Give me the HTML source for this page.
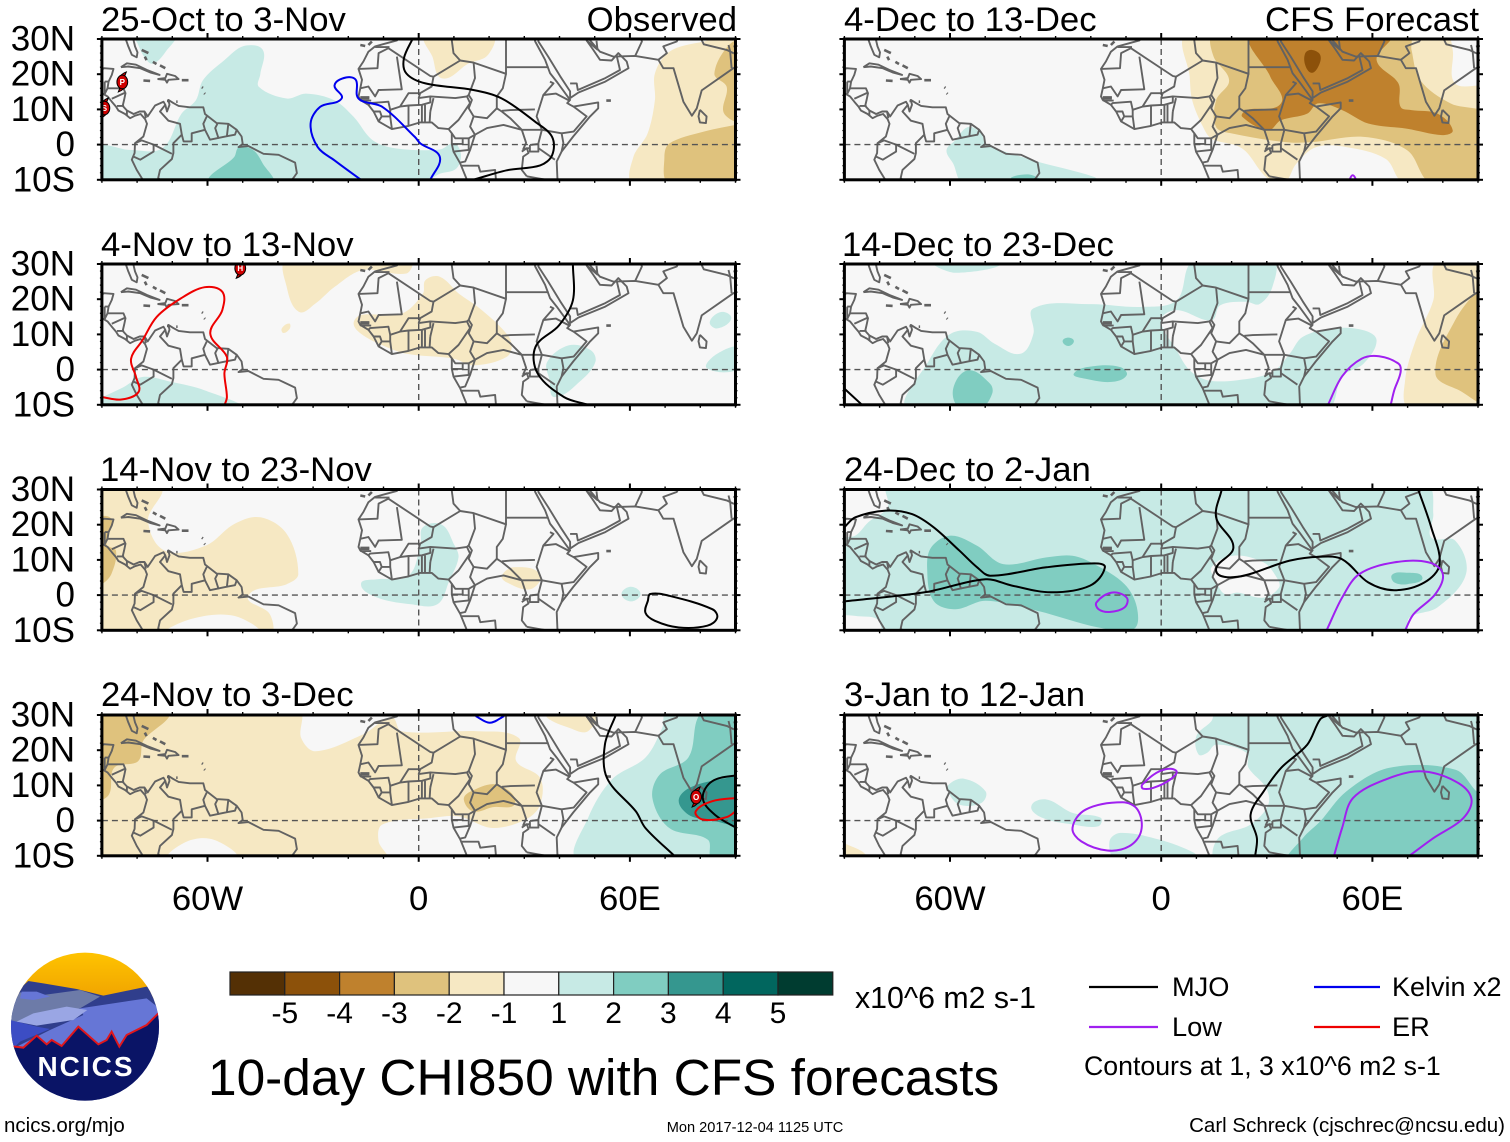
<!DOCTYPE html>
<html lang="en">
<head>
<meta charset="utf-8">
<title>10-day CHI850 with CFS forecasts</title>
<style>
html,body{margin:0;padding:0;background:#fff}
svg{display:block}
text{font-family:"Liberation Sans",sans-serif;fill:#000}
</style>
</head>
<body>
<svg id="chart" xmlns="http://www.w3.org/2000/svg" width="1510" height="1142" viewBox="0 0 1510 1142">
<rect x="0" y="0" width="1510" height="1142" fill="#fff"/>
<g id="panels"></g>

<g font-size="34.7">
<text x="101" y="31">25-Oct to 3-Nov</text>
<text x="737" y="31" text-anchor="end">Observed</text>
<text x="101" y="256">4-Nov to 13-Nov</text>
<text x="100" y="481">14-Nov to 23-Nov</text>
<text x="101" y="706">24-Nov to 3-Dec</text>
<text x="844" y="31">4-Dec to 13-Dec</text>
<text x="1479" y="31" text-anchor="end">CFS Forecast</text>
<text x="842" y="256">14-Dec to 23-Dec</text>
<text x="844" y="481">24-Dec to 2-Jan</text>
<text x="844" y="706">3-Jan to 12-Jan</text>
</g>

<g id="colorbar"></g>
<text x="855" y="1008" font-size="30.3">x10^6 m2 s-1</text>

<text x="208" y="1095" font-size="51.4">10-day CHI850 with CFS forecasts</text>

<g>
<line x1="1089" y1="987" x2="1158" y2="987" stroke="#000" stroke-width="2.2"/>
<text x="1172" y="996" font-size="27.2">MJO</text>
<line x1="1314" y1="987" x2="1380" y2="987" stroke="#0000ee" stroke-width="2.2"/>
<text x="1392" y="996" font-size="27">Kelvin x2</text>
<line x1="1089" y1="1027" x2="1158" y2="1027" stroke="#a020f0" stroke-width="2.2"/>
<text x="1172" y="1036" font-size="27.2">Low</text>
<line x1="1314" y1="1027" x2="1380" y2="1027" stroke="#ee0000" stroke-width="2.2"/>
<text x="1392" y="1036" font-size="27.2">ER</text>
<text x="1084" y="1075" font-size="26.7">Contours at 1, 3 x10^6 m2 s-1</text>
</g>

<g>
<defs>
<clipPath id="logoClip"><circle cx="255" cy="245" r="222"/></clipPath>
<linearGradient id="logoSky" x1="0" y1="0" x2="0" y2="1"><stop offset="0" stop-color="#ffc400"/><stop offset="1" stop-color="#f0a300"/></linearGradient>
</defs>
<g transform="translate(0,945) scale(0.33333)" clip-path="url(#logoClip)">
<rect x="30" y="20" width="460" height="140" fill="url(#logoSky)"/>
<polygon points="30,150 60,130 85,108 130,115 230,132 310,152 440,125 490,130 490,480 30,480" fill="#303e8c"/>
<polygon points="30,185 60,142 130,150 240,135 300,155 240,190 100,225 30,235" fill="#6d7ba8"/>
<polygon points="65,140 110,140 150,155 100,165 60,160" fill="#6676d6"/>
<polygon points="240,190 440,160 490,200 490,280 350,310 40,310 150,255 250,210" fill="#6676d6"/>
<polygon points="30,225 110,245 150,252 60,290 40,310 30,310" fill="#3c4dc4"/>
<polygon points="50,230 100,205 200,185 262,195 220,225 110,242" fill="#9aa6e4"/>
<polygon points="45,305 70,308 110,272 140,298 155,285 185,303 235,245 295,298 320,285 335,260 358,305 380,270 440,240 475,205 490,205 490,480 30,480 30,305" fill="#0a1466" stroke="#e0161c" stroke-width="6"/>
</g>
<text x="86" y="1076" text-anchor="middle" font-size="28" font-weight="bold" letter-spacing="2" style="fill:#fff">NCICS</text>
</g>

<text x="4" y="1132" font-size="20.5">ncics.org/mjo</text>
<text x="755" y="1132" font-size="14.6" text-anchor="middle">Mon 2017-12-04 1125 UTC</text>
<text x="1505" y="1132" font-size="20.5" text-anchor="end">Carl Schreck (cjschrec@ncsu.edu)</text>
</svg>

<script>
/* ---------- axis labels ---------- */
const latTicks = [30, 20, 10, 0, -10];
const latTickLabels = ['30N', '20N', '10N', '0', '10S'];
const lonTicks = [-60, 0, 60];
const lonTickLabels = ['60W', '0', '60E'];
const colorLevels = [-6, -5, -4, -3, -2, -1, 1, 2, 3, 4, 5];
const colorbarLabels = ['-5', '-4', '-3', '-2', '-1', '1', '2', '3', '4', '5'];
const levelColors = {'-6':'#543005','-5':'#543005','-4':'#8c510a','-3':'#bf812d','-2':'#dfc27d','-1':'#f6e8c3','0':'#f7f7f7','1':'#c7eae5','2':'#80cdc1','3':'#35978f','4':'#01665e','5':'#003c30'};
const barColors = ['#543005','#8c510a','#bf812d','#dfc27d','#f6e8c3','#f7f7f7','#c7eae5','#80cdc1','#35978f','#01665e','#003c30'];
const lineColors = {mjo:'#000000', kelvin:'#0000ee', low:'#a020f0', er:'#ee0000'};

/* ---------- basemap, lon/lat ---------- */
const coastLines = [
 [[-83.2,30.5],[-83.1,29.6],[-82.5,27.9],[-81.5,25.5],[-80.1,24.8],[-79.9,26.2],[-80.6,27.9],[-81,29.6],[-81,30.5]],
 [[-90.5,21],[-89.4,21.7],[-86.7,21.5],[-87.2,19.8],[-88.1,17.9],[-88.4,16],[-86.2,16],[-83.9,16],[-83.3,14.6],[-83.7,12.7],[-84.1,11],[-82.9,9.7],[-81,8.7],[-79.3,9.4],[-77.9,9.4],[-77,8],[-74.9,11.1],[-72.5,12.2],[-72,11.3],[-71.5,9.4],[-70.8,11.3],[-71.1,12.7],[-69.7,11.8],[-68.2,11],[-65,10.6],[-61.2,10.6],[-60.7,8.7],[-57.4,6.1],[-54.1,5.9],[-51.7,4.2],[-50.3,2.3],[-50,0.2],[-51.2,-0.7],[-48.4,-0.4],[-44.1,-2.6],[-39.8,-2.9],[-35.1,-5.1],[-34.6,-8.1],[-35.6,-9.5],[-36.5,-10.5]],
 [[-90.5,14.6],[-89.6,14.4],[-88.4,13.7],[-87.2,12.2],[-86,10.8],[-85.3,9.7],[-83.4,8.7],[-82,7.5],[-80.6,8.2],[-79,8.7],[-77.7,7.2],[-77.2,5.9],[-78.2,2.3],[-80.6,0.4],[-80.7,-2.4],[-81.5,-4.3],[-80.1,-7.2],[-78.7,-9.5],[-78,-10.5]],
 [[-5.5,30.5],[-6.2,29.6],[-12.4,27.9],[-14.3,26.4],[-15.7,23.6],[-17.1,21.5],[-16.1,18.4],[-16.6,16],[-17.1,13.7],[-16.6,12.7],[-14.3,11.3],[-12.8,9.4],[-11.4,6.6],[-7.6,4.4],[-2.9,5.3],[0.4,6.3],[3.7,6.3],[5.6,4.7],[8.5,4.4],[9.4,3.2],[9.4,0.2],[9.9,-2],[11.8,-5.3],[13.5,-9.5],[13.8,-10.5]],
 [[32.8,30.5],[33.1,29.3],[35.9,24.1],[37.3,20.3],[39.2,17.9],[43,12.7],[42.2,11.8],[43.2,11.2],[44,10.8],[51,12],[51,10.3],[48.7,8],[43.9,2.3],[40.6,-2],[39.2,-4.8],[39.4,-9.5],[39.5,-10.5]],
 [[34,30.5],[34,29.3],[36.8,25],[40.2,19.4],[43,15.1],[43,13.2],[45.4,14.8],[53,17.9],[59.6,21.7],[59.1,23.6],[56.7,26],[54.8,23.9],[51.5,24.1],[49.6,26.9],[47.7,29.6],[47.7,30.5]],
 [[48.7,30.5],[48.7,29.6],[51.5,26.4],[55.3,25],[61.5,25.2],[68.1,24.1],[69.5,21.7],[72.4,21.7],[75.2,12.2],[77.6,8.2],[79,10.3],[80.4,15.4],[89.4,21.7],[91,22.5]],
 [[79.9,9.9],[81.8,8],[81.6,6.1],[79.9,6.3],[79.5,8],[79.9,9.9]],
 [[-84.6,22],[-82.9,23.1],[-80.3,22.7],[-77.2,21.2],[-73.6,19.8],[-76.3,20.5],[-79.1,21.7],[-82.5,22.2],[-84.6,22]],
 [[-74.2,18.6],[-72,18.9],[-71.5,20.1],[-69.2,19.5],[-68.2,18.6],[-71.1,18.4],[-71.5,17.6],[-72,18.4],[-74.2,18.6]],
 [[31.6,-0.1],[34,0.2],[34,-2],[31.6,-2],[31.6,-0.1]],
 [[29.3,-2],[30.7,-1],[31.2,-2.4],[29.7,-3.4],[29.3,-7.2],[30.7,-9]]
];
const islandMarks = [
 [[-78.7,26.9],[-76.8,26]], [[-77.8,25],[-77.3,24]], [[-75.5,23.5],[-74.5,22.9]], [[-73.5,22.5],[-72,21.7]],
 [[-78.2,18.2],[-76.3,18.1]], [[-67.3,18.3],[-65.4,18.3]], [[-61.6,16.3],[-61.3,16.1]], [[-60.9,14.6],[-60.7,14.4]],
 [[-71.5,12.4],[-71.1,12.4]], [[-68.9,12.2],[-68.5,12.2]], [[-16.6,28.3],[-15.2,28]], [[-14.3,28.3],[-13.3,29.3]], [[53.3,12.5],[54.6,12.5]]
];
const borderLines = [
 [[-89.2,17.9],[-88.1,17.9]], [[-89.2,17.9],[-89.2,14.4]], [[-88.4,16],[-89.2,14.4]], [[-83.3,14.8],[-87.2,13]], [[-83.7,11],[-85.7,11]], [[-82.9,9.7],[-82.9,8.3]], [[-77.9,9.4],[-77.5,7.5]],
 [[-72,11.3],[-73.5,9.4],[-71.1,6.8],[-67.8,5.9],[-67.3,2.8],[-69.7,0.4],[-69.7,-2.4],[-70.1,-4.1],[-73.5,-7.2],[-74,-9.5],[-73,-10.5]],
 [[-67.3,2.8],[-66.8,0.9],[-64.5,0.9],[-64.5,3.2],[-60.7,4.2],[-61.2,5.9],[-60.2,8]],
 [[-60.7,4.2],[-59.3,1.4],[-56.9,1.9],[-57.8,4.7],[-57.2,5.9]], [[-56.9,1.9],[-54.5,2.4],[-54.1,5.9]], [[-54.5,2.4],[-52.2,2.8],[-51.7,4.2]],
 [[-80.6,0.4],[-78.7,1.2],[-75.3,0],[-70.1,-2.6]], [[-75.3,0],[-75.3,-2],[-79.1,-4.3],[-81,-3.4]],
 [[-12.4,27.7],[-8.3,27.7]], [[-8.6,27.4],[-11.4,26],[-11.7,21.7],[-17.1,21.5]],
 [[-8.6,27.4],[3.3,19.5],[4.2,19.3],[11.8,23.9],[9.9,26],[9.4,29.6],[9.4,30.5]],
 [[-6.2,25],[-4.8,15.7],[-11.4,15.5],[-12.4,13.7],[-14.3,16.5],[-16.6,16]],
 [[11.8,23.9],[15.6,23.3],[24.8,20.1],[24.8,30.5]], [[24.8,22],[36.9,22]],
 [[4.2,19.3],[3.7,16.5],[0.4,14.6],[-2.9,14.6],[-5.3,10.8],[-8.1,9.9],[-8.6,12.2],[-13.8,11.8],[-14.3,11.3]],
 [[15.6,23.3],[16,18.9],[14.2,14.1],[15.1,12.7],[14.2,10.3],[15.6,8],[14.6,5.1],[16,2.8],[14.2,1.8],[10.4,1.8],[9.4,3.2]],
 [[0.4,14.6],[0,13.2],[3.3,13.7],[10.4,13.2],[13.7,13.7],[14.2,14.1]],
 [[-5.3,10.8],[-2.9,11.1],[0.9,11.3],[3.3,12],[3.3,13.7]],
 [[-2.9,11.1],[-2.9,5.3]], [[0.9,11.3],[0.9,6.3]], [[1.8,11.3],[1.8,6.3]], [[3.3,9.4],[3.1,6.3]], [[3.3,9.4],[4.2,13.2]],
 [[8.5,4.4],[11.3,7],[14.6,11.8],[13.7,13.7]],
 [[9.9,-2],[14.2,-1.5],[14.2,1.8]], [[9.4,0.2],[12.5,0.2],[12.5,1.8]], [[16,2.8],[14.6,-1.5],[13.2,-4.8],[11.8,-5.1]],
 [[12.3,-6],[17,-6],[17.5,-7.7],[21.7,-7.2],[21.9,-9.5],[22,-10.5]],
 [[15.6,8],[19.4,7.5],[22.2,10.3],[23.6,9.4],[26,7.5],[29.3,4.2],[35,4.2]],
 [[24.8,20.1],[23.9,16],[22.2,13.7],[22.2,10.3]], [[16,2.8],[19.4,4.7],[24.1,5.6],[29.3,4.2]],
 [[23.6,9.6],[26,9.8],[33,10]], [[-12.8,9.4],[-11,9.4],[-10.5,8],[-11.4,6.6]], [[-10.5,8],[-8.1,8],[-7.6,4.4]], [[-8.1,8],[-8.1,9.9]],
 [[-16.6,13.5],[-14,13.5]], [[-16.6,13.1],[-14,13.1]], [[-16.6,12.5],[-13.5,12.5]],
 [[37.3,17.9],[38.3,17.4],[35.4,14.1],[33.5,8],[35,4.2],[40.6,3.2],[41.1,0.4],[40.6,-2]],
 [[35.4,14.1],[39,14.5],[43,12.4]], [[40.6,3.2],[44,3.7],[47.7,8],[44,10.8]], [[35,4.2],[34,0.4]], [[34,-1],[38.7,-4.3]],
 [[29.3,4.2],[30.5,0.5],[29.6,-1.5]], [[31.6,-1],[29.8,-1.2]], [[30.7,-9],[34,-9.6],[39.4,-10.5]],
 [[43,17.4],[44.9,17.4],[45.2,15.5],[53,18.9],[57.2,21.2],[56.3,25]], [[50.5,29.5],[50.8,27],[47.7,29.6]],
 [[61.5,25.2],[63.4,29.3],[63,30.5]], [[68.1,24.1],[70.5,26],[69.5,27.9],[73.3,29.3],[74,30.5]],
 [[80,30.5],[81,28.5],[87.5,26.9],[89.4,26]], [[88,28.3],[88.5,26.4],[88.9,21.7]], [[89.4,27.9],[91,28]], [[89.4,26],[91,25.5]]
];

/* ---------- filled CHI850 anomaly regions: [level, points] ---------- */
const panel1Fills = [
 [1,[[-81,31],[-69.4,31],[-71.5,26.9],[-75.5,23],[-78,25],[-80,29]]],
 [1,[[-49.7,28],[-44.3,26.9],[-45,20],[-45.4,16.4],[-37.5,13.1],[-32,14.5],[-24,12.6],[-18.5,7.9],[-13,1.2],[-6.3,-1.1],[6,-1.4],[10,0.3],[12,-2.6],[10.7,-6.8],[6,-8.3],[0.5,-11],[-92,-11],[-92,-1],[-82,-1.5],[-72.8,-1],[-67.4,8.8],[-63.3,12.6],[-61.3,18.3],[-55.2,24]]],
 [2,[[-59.2,-11],[-52.4,-3.5],[-51,-0.7],[-47,-1.6],[-44.3,-5.4],[-41.6,-11]]],
 [-1,[[61,-11],[61,-3.5],[65,3.1],[67.1,12.6],[67.1,20.2],[71.2,26.4],[80.7,29.2],[93,31],[93,-11]]],
 [-1,[[1.9,31],[21,31],[19.6,25.4],[14.1,23],[6.7,18.8],[3.9,25]]],
 [-2,[[71.2,-11],[69.8,-3.5],[71.2,0.3],[80.7,3.6],[89.5,5.5],[93,6],[93,-11]]],
 [-2,[[84,20.2],[88.7,28.8],[93,29],[93,7],[86.8,8.8],[87.5,16.4]]]
];
const panel2Fills = [
 [-1,[[-37.5,31],[-2.2,31],[-3.5,27.3],[-15.8,28.3],[-23.9,23.5],[-29.3,18.8],[-34,16.4],[-37.5,23.5]]],
 [-1,[[-38.9,11.7],[-36.8,13.1],[-36.6,11.7],[-38.4,10.4]]],
 [-1,[[-18.5,13.1],[-16.4,15.5],[-4.9,15.9],[1.2,21.6],[1.9,25.4],[6,26.4],[11.4,21.6],[16.8,17.8],[23.6,11.7],[26.4,7.4],[25,3.6],[15.5,1.2],[10,3.1],[-3.5,4.5],[-10.3,6.9],[-16.4,10.2]]],
 [1,[[36.5,2.2],[42.7,6.9],[48.9,5.5],[50.2,2.2],[46.2,-3],[38.6,-7.8],[37.2,-3]]],
 [1,[[82.7,13.6],[86.1,16.4],[88.8,14.5],[84.8,11.7]]],
 [1,[[82,0.3],[84.8,4.5],[92,6.2],[92,0.6]]],
 [1,[[-92,-9.2],[-83.9,-5],[-78.5,-2.1],[-70.3,-3.5],[-60.8,-5.9],[-50.7,-11],[-92,-11]]]
];
const panel3Fills = [
 [-1,[[-92,31],[-73.5,31],[-76.9,21.2],[-72.1,12.6],[-60.6,14],[-52.4,20.2],[-45,22.1],[-37.5,17.4],[-34.2,6],[-37.5,3.1],[-48.4,-0.2],[-42.3,-5.4],[-42.3,-11],[-92,-11]]],
 [0,[[-71.5,-11],[-64.7,-6.8],[-52.4,-5.9],[-45.6,-11]]],
 [-2,[[-92,21.2],[-87.3,21.6],[-88.7,14.5],[-86,12.6],[-87.3,6],[-90,3.1],[-92,3]]],
 [1,[[-16.4,3.1],[-11.7,4.5],[-2.9,5.5],[0.5,14.5],[1.2,19.3],[6.6,20],[10,14.5],[11.3,10.7],[8.7,4.1],[5.3,-2.6],[-2.2,-2.6],[-11.7,-0.7]]],
 [-1,[[23.6,5.5],[27,7.9],[34.5,6],[31.8,1.7],[25,3.6]]],
 [1,[[57.6,0.3],[60.3,2.4],[63,0.3],[60.3,-1.8]]]
];
const panel4Fills = [
 [-1,[[-92,31],[-34.1,31],[-33.4,23.5],[-29.3,19.7],[-15.8,24.5],[-7.6,29.2],[-4.9,25.4],[16.8,25.4],[28.4,23.5],[27.7,16.9],[34.5,12.1],[34.5,4.5],[30.4,0.3],[20.9,-2.1],[11.4,1.2],[3.3,0.7],[-10.3,-1.1],[-11.4,-5.9],[-9,-11],[-92,-11]]],
 [0,[[-71,-11],[-66,-6],[-58,-5.5],[-52,-11]]],
 [-1,[[36.5,29.2],[37,31],[50,31],[48.1,25.4],[42.7,26.4]]],
 [-2,[[-92,31],[-71.5,31],[-78.3,22.6],[-79.7,16.9],[-86.5,15],[-88,7.4],[-92,6]]],
 [-2,[[12.8,6],[14.8,8.3],[22.3,10.2],[27.4,5],[20.9,3.8],[15.5,2.6]]],
 [1,[[45.4,-11],[48.1,0.7],[54.9,11.7],[64.4,17.9],[69.2,26.4],[70.5,31],[93,31],[93,-11]]],
 [2,[[93,31],[80.7,31],[76.6,17.9],[68.5,13.1],[66.4,6.4],[71.2,-2.1],[82.1,-5.4],[83.4,-11],[93,-11]]],
 [3,[[73.9,6],[78,9.8],[90.2,12.6],[93,13],[93,-0.2],[82.1,0.3],[76.6,1.7]]]
];
const panel5Fills = [
 [1,[[-61,-1.6],[-58.5,1.2],[-54.8,5],[-51.1,3.1],[-49.9,0.3],[-36.3,-4.5],[-19,-9.2],[-17.8,-11],[-56,-11],[-59.1,-5.4]]],
 [2,[[-42.5,-10],[-37.5,-8.5],[-33.8,-11]]],
 [-1,[[7.5,31],[8.1,19.3],[8.8,12.6],[11.9,5],[14.3,1.7],[23,-1.1],[29.8,-9.2],[34.7,-11],[38.4,-5.4],[44,-0.7],[52.6,-0.7],[63.7,-4],[67.4,-9.7],[69,-11],[93,-11],[93,15.5],[83.5,17.4],[82.8,26.9],[81,31]]],
 [-2,[[14.9,31],[14.9,25],[19.3,18.3],[15.6,12.6],[15.6,5],[20.5,3.1],[35.3,0.7],[42.7,0.7],[57.5,2.2],[69.9,-1.6],[76.7,-11],[93,-11],[93,7.9],[82.2,11.7],[73.6,18.3],[71.1,26.9],[70.5,31]]],
 [-3,[[26,31],[31,19.3],[34,11.7],[24.2,9.8],[23,7.9],[30.4,4.1],[34,6.9],[41.5,8.8],[44.6,11.7],[51.4,9.8],[58.8,6],[69.9,4.5],[79.8,2.7],[82.8,4.1],[78.5,8.8],[71.1,9.8],[68,10.7],[67.4,17.4],[61.2,24],[65,31]]],
 [-4,[[40.9,25.9],[42.7,26.9],[45.2,25.4],[44.6,22.1],[42.7,20.4],[40.9,22.6]]]
];
const panel6Fills = [
 [1,[[-64.7,31],[-46.2,31],[-58.5,27.5]]],
 [1,[[-71.5,-11],[-65.9,2.7],[-59.8,10.2],[-52.3,10.7],[-47.4,7.4],[-40,4.5],[-36.3,10.2],[-36.3,17.4],[-20.2,18.6],[-5.4,17.8],[4.4,19.7],[9.4,31],[31.6,31],[31.6,23.5],[27.9,18.6],[24.2,19.3],[16.8,18.3],[14.3,14],[4.4,16.9],[0,14],[4.4,5.5],[8.1,-0.2],[13.1,-3],[21.7,-3],[31.6,-0.7],[36.5,4.5],[40.2,9.3],[48.9,11.7],[57.5,11.2],[61.2,8.3],[57.5,1.7],[51.4,-1.9],[47,-11]]],
 [2,[[-59.1,-5.4],[-54.8,-0.2],[-48.6,-4],[-48,-6.8],[-51.1,-11],[-57.3,-11]]],
 [2,[[-24.8,-1.1],[-19,1],[-11.6,0.7],[-9.8,-1.6],[-14.1,-3.5],[-21.5,-2.6]]],
 [2,[[-28,8.1],[-26.4,9.1],[-24.8,8.1],[-26.4,6.7]]],
 [-1,[[70.5,-11],[69.3,-3],[72.3,8.3],[77.3,19.7],[78.5,31],[93,31],[93,-11]]],
 [-2,[[77.9,-1.1],[83.5,14],[90.2,22.6],[93,23],[93,-9],[84.7,-5.9]]]
];
const panel7Fills = [
 [1,[[-77.7,31],[75.4,31],[77.3,23],[76.7,16.4],[83.5,15.5],[86.6,6],[78.5,-3.5],[70.5,-6.4],[69.3,-11],[-78.3,-11],[-80.7,-6.8],[-86.9,-5.9],[-92,-4.5],[-92,15.5],[-86.9,16.9],[-83.2,20.7],[-77.7,25]]],
 [0,[[14.3,7.9],[20.5,11.2],[29.1,9.3],[32.8,5],[33.5,2.2],[29.1,-0.7],[21.7,0.7],[18,0.3],[15.6,4.1]]],
 [2,[[-65.3,13.6],[-59.8,16.9],[-52.3,14],[-44.9,8.8],[-32.6,10.7],[-25.2,11.2],[-19,8.8],[-10.4,3.1],[-6.9,-3.5],[-7.9,-9.7],[-17.8,-9.2],[-35.1,-4.5],[-49.9,-1.6],[-58.5,-4],[-64.7,-1.6],[-66.5,7.9]]],
 [2,[[65.6,5.8],[69.3,6.4],[74.2,5],[69.9,3.1],[66.2,3.6]]]
];
const panel8Fills = [
 [1,[[10.6,18.8],[10,24],[14.3,28.3],[15.6,31],[93,31],[93,-11],[15.6,-11],[16.2,-5],[25.4,-1.1],[30.4,4.5],[29.8,9.3],[24.8,15],[24.2,19.3],[15.6,21.6],[13.1,19.3]]],
 [1,[[-60.4,10.2],[-56,11.9],[-49.9,8.3],[-51.1,5],[-57.3,4.5],[-60.4,7.9]]],
 [1,[[-36.9,4.1],[-32.6,6],[-25.2,2.2],[-17.2,0.8],[-17.8,-1.6],[-25.2,-1.1],[-33.8,0.8]]],
 [1,[[-14.7,-5.9],[-11.6,-3.5],[-0.5,-5.4],[9.4,-9.2],[10,-11],[-12.8,-11]]],
 [2,[[36.5,-11],[40.2,-5],[45.2,-0.2],[52.6,8.3],[64.9,15],[83.5,14.5],[89.6,8.3],[93,6],[93,-11]]],
 [-1,[[-92,-6.4],[-90,-6.4],[-83.9,-11],[-92,-11]]]
];

/* ---------- wave-filtered contours: [kind, closed, points] ---------- */
const panel1Lines = [
 ['mjo',false,[[-1.5,30.5],[-4.2,24.5],[-3.5,20.2],[1.9,17.4],[15.5,15.5],[23.6,13.1],[33.2,6.4],[37.9,2.2],[37.9,-3],[34.5,-5.9],[25,-7.3],[15.5,-10]]],
 ['kelvin',false,[[-16.4,-10],[-23.9,-4.5],[-28.7,-0.7],[-30.7,6],[-28,10.7],[-21.9,13.1],[-23.9,16.9],[-20.5,19.1],[-17.8,18.3],[-17.1,13.1],[-10.3,10.7],[-1.1,2.2],[0.5,0.3],[6,-3.5],[3.3,-10]]]
];
const panel2Lines = [
 ['er',false,[[-90,-7.8],[-84.5,-8.5],[-79.6,-6.4],[-80.3,-2.1],[-81.7,3.1],[-78.5,8.3],[-74.4,15],[-67.6,20.2],[-60.8,23.4],[-55.8,22.1],[-55.8,16.9],[-59.2,10.2],[-54.5,3.6],[-55.2,-1.1],[-54.5,-7.8],[-55.2,-10.2]]],
 ['mjo',false,[[43.8,30],[43.8,19.7],[39.9,12.6],[33.2,6.5],[33.8,-1.1],[41.3,-7.8],[48.1,-10]]]
];
const panel3Lines = [
 ['mjo',true,[[65.8,0.3],[71.2,-0.2],[83.4,-4],[84.8,-6.4],[82,-8.7],[73.9,-9.2],[67.1,-7.3],[64.4,-5],[65.1,-1.6]]]
];
const panel4Lines = [
 ['mjo',false,[[56,30],[52.9,21.6],[53.5,12.1],[61.7,2.6],[64.4,-2.1],[72.6,-10]]],
 ['mjo',false,[[91,13],[83.4,11.2],[80.7,6.4],[84.1,1.7],[91,-2.5]]],
 ['kelvin',false,[[16.2,29.7],[20.2,27.8],[24.3,29.7]]],
 ['er',false,[[91,6.5],[83.4,5.5],[78.7,2.6],[80.7,0.3],[87.5,1],[91,3.5]]]
];
const panel5Lines = [
 ['low',false,[[53.5,-10],[54.4,-8.7],[55.4,-10]]]
];
const panel6Lines = [
 ['low',false,[[47.4,-10],[51.4,-1.9],[56.9,3.1],[61.9,3.8],[67.4,1.7],[68,-0.7],[66.2,-5.9],[65.2,-10]]],
 ['mjo',false,[[-90,-5.4],[-85,-10]]]
];
const panel7Lines = [
 ['mjo',false,[[-90,19.3],[-86.9,22.1],[-78.2,24],[-70.8,23],[-64.7,19.3],[-57.3,12.6],[-52.3,7.9],[-48.6,5.5],[-32.6,7.9],[-19,9],[-16,7.9],[-20.2,2.7],[-31.3,0.8],[-42.4,2.7],[-49.9,4.5],[-67.2,0.8],[-90,-1.8]]],
 ['mjo',false,[[17.2,30],[15.6,22.1],[20.5,13.6],[15.6,6.9],[21.7,5.2],[36.5,9.8],[45.2,10.9],[51.4,10.2],[58.8,3.6],[66.2,1.4],[74.8,3.6],[79.1,8.8],[76.7,19.3],[73,30]]],
 ['low',true,[[-18.4,-2.1],[-14.1,0.7],[-9.8,-0.7],[-10.4,-3.5],[-14.7,-4.8],[-17.8,-4]]],
 ['low',false,[[47,-10],[51.4,-0.7],[56.3,6],[66.2,9.3],[76,9.3],[80,6],[77.9,0.3],[71.7,-5.4],[69.3,-10]]]
];
const panel8Lines = [
 ['mjo',false,[[47.7,30],[45.2,28.8],[41.5,21.6],[34.1,15],[29.1,8.3],[25.4,1.7],[27.2,-5],[26.7,-10]]],
 ['low',true,[[-25.2,-2.1],[-21.5,3.1],[-11,5.2],[-6.7,3.1],[-5.7,-3],[-9.1,-7.3],[-15.3,-8.5],[-22.7,-5.9]]],
 ['low',true,[[-5.4,10.2],[-0.5,14],[4.2,14.2],[2.6,11.7],[-2.3,9.3],[-5.2,9.1]]],
 ['low',false,[[49.1,-10],[51.4,-2.1],[54.5,6.4],[63.8,11.7],[73.6,14],[83.5,11.2],[88.1,6.4],[85.9,0.8],[77.3,-5],[70.5,-10]]]
];

/* ---------- tropical cyclones: [lon, lat, letter] ---------- */
const panel1Storms = [[-84.2,17.8,'P'],[-89.3,10.4,'S']];
const panel2Storms = [[-50.7,28.8,'H']];
const panel4Storms = [[78.8,6.7,'O']];

const panelFills = [panel1Fills,panel2Fills,panel3Fills,panel4Fills,panel5Fills,panel6Fills,panel7Fills,panel8Fills];
const panelLines = [panel1Lines,panel2Lines,panel3Lines,panel4Lines,panel5Lines,panel6Lines,panel7Lines,panel8Lines];
const panelStorms = [panel1Storms,panel2Storms,[],panel4Storms,[],[],[],[]];

/* ---------- scales ---------- */
const SVGNS = 'http://www.w3.org/2000/svg';
const panelColumn = [0,0,0,0,1,1,1,1];
const zeroLonX = [418.7, 1161.2];
const topY = [39, 264, 489.5, 715];
const DEG = 3.52;
function xScale(i, lon){ return zeroLonX[panelColumn[i]] + lon * DEG; }
function yScale(i, lat){ return topY[i % 4] + (30 - lat) * DEG; }
function el(tag, attrs, parent){
  const n = document.createElementNS(SVGNS, tag);
  for (const k in attrs) n.setAttribute(k, attrs[k]);
  parent.appendChild(n);
  return n;
}
/* chord-scaled Catmull-Rom: handle length follows the segment, so long edge runs do not overshoot */
function smoothPath(points, closed){
  const n = points.length;
  const at = j => closed ? points[(j + n) % n] : points[Math.max(0, Math.min(n - 1, j))];
  const unit = (a, b) => {
    const dx = b[0] - a[0], dy = b[1] - a[1], len = Math.hypot(dx, dy) || 1;
    return [dx / len, dy / len];
  };
  let d = 'M' + points[0][0].toFixed(1) + ' ' + points[0][1].toFixed(1);
  const last = closed ? n : n - 1;
  for (let j = 0; j < last; j++){
    const p0 = at(j - 1), p1 = at(j), p2 = at(j + 1), p3 = at(j + 2);
    const seg = Math.hypot(p2[0] - p1[0], p2[1] - p1[1]) * 0.33;
    const t1 = unit(p0, p2), t2 = unit(p1, p3);
    const c1x = p1[0] + t1[0] * seg, c1y = p1[1] + t1[1] * seg;
    const c2x = p2[0] - t2[0] * seg, c2y = p2[1] - t2[1] * seg;
    d += 'C' + c1x.toFixed(1) + ' ' + c1y.toFixed(1) + ' ' + c2x.toFixed(1) + ' ' + c2y.toFixed(1) + ' ' + p2[0].toFixed(1) + ' ' + p2[1].toFixed(1);
  }
  return d + (closed ? 'Z' : '');
}
function straightPath(points){
  return 'M' + points.map(p => p[0].toFixed(1) + ' ' + p[1].toFixed(1)).join('L');
}

/* ---------- draw panels ---------- */
const panelsRoot = document.getElementById('panels');
const defsNode = el('defs', {}, panelsRoot);
const lineNames = {mjo:'mjo-contour', kelvin:'kelvin-contour', low:'low-contour', er:'er-contour'};

panelFills.forEach(function(fills, i){
  const project = p => [xScale(i, p[0]), yScale(i, p[1])];
  const x0 = xScale(i, -90), x1 = xScale(i, 90), y0 = yScale(i, 30), y1 = yScale(i, -10);

  const clip = el('clipPath', {id: 'clip' + i}, defsNode);
  el('rect', {x: x0, y: y0, width: x1 - x0, height: y1 - y0}, clip);

  const g = el('g', {}, panelsRoot);
  
  

  const plot = el('g', {'clip-path': 'url(#clip' + i + ')'}, g);
  const bg = el('rect', {x: x0, y: y0, width: x1 - x0, height: y1 - y0, fill: '#f7f7f7'}, plot);
  
  

  fills.forEach(function(f){
    const shape = el('path', {d: smoothPath(f[1].map(project), true), fill: levelColors[String(f[0])]}, plot);
    
    
  });

  const map = el('g', {fill: 'none', stroke: '#626262', 'stroke-width': 1.9, 'stroke-linejoin': 'round'}, plot);
  
  
  coastLines.concat(borderLines).forEach(function(line){
    el('path', {d: straightPath(line.map(project))}, map);
  });
  islandMarks.forEach(function(line){
    el('path', {d: straightPath(line.map(project)), 'stroke-width': 2.6}, map);
  });

  const eq = el('line', {x1: x0, x2: x1, y1: yScale(i, 0), y2: yScale(i, 0), stroke: '#555', 'stroke-width': 1.4, 'stroke-dasharray': '6 4'}, plot);
  
  
  const mer = el('line', {x1: xScale(i, 0), x2: xScale(i, 0), y1: y0, y2: y1, stroke: '#555', 'stroke-width': 1.4, 'stroke-dasharray': '6 4'}, plot);
  
  

  panelLines[i].forEach(function(l){
    const line = el('path', {d: smoothPath(l[2].map(project), l[1]), fill: 'none', stroke: lineColors[l[0]], 'stroke-width': 2}, plot);
    
    
  });

  panelStorms[i].forEach(function(s){
    const cx = xScale(i, s[0]), cy = yScale(i, s[1]);
    const storm = el('g', {}, plot);
    
    
    el('path', {d: 'M' + (cx + 4) + ' ' + (cy - 10) + 'Q' + (cx - 2) + ' ' + (cy - 8) + ' ' + (cx - 3) + ' ' + (cy - 3) + 'L' + (cx + 2) + ' ' + (cy - 5) + 'Z', fill: '#d00000', stroke: '#000', 'stroke-width': 1}, storm);
    el('path', {d: 'M' + (cx - 4) + ' ' + (cy + 10) + 'Q' + (cx + 2) + ' ' + (cy + 8) + ' ' + (cx + 3) + ' ' + (cy + 3) + 'L' + (cx - 2) + ' ' + (cy + 5) + 'Z', fill: '#d00000', stroke: '#000', 'stroke-width': 1}, storm);
    el('ellipse', {cx: cx, cy: cy, rx: 5.4, ry: 6.8, fill: '#d00000', stroke: '#000', 'stroke-width': 1}, storm);
    const letter = el('text', {x: cx, y: cy + 3, 'text-anchor': 'middle', 'font-size': 8, 'font-weight': 'bold', style: 'fill:#fff'}, storm);
    letter.textContent = s[2];
  });

  const ticks = el('g', {stroke: '#000', 'stroke-width': 1.4}, g);
  
  
  for (let lon = -90; lon <= 90; lon += 10){
    const major = lonTicks.indexOf(lon) >= 0;
    const len = major ? 6 : 3, x = xScale(i, lon);
    el('line', {x1: x, x2: x, y1: y0 - len, y2: y0, 'stroke-width': major ? 2 : 1.4}, ticks);
    el('line', {x1: x, x2: x, y1: y1, y2: y1 + len, 'stroke-width': major ? 2 : 1.4}, ticks);
  }
  for (let lat = -10; lat <= 30; lat += 2){
    const major = lat % 10 === 0;
    const len = major ? 5 : 2, y = yScale(i, lat);
    el('line', {x1: x0 - len, x2: x0, y1: y, y2: y, 'stroke-width': major ? 2 : 1.2}, ticks);
    el('line', {x1: x1, x2: x1 + len, y1: y, y2: y, 'stroke-width': major ? 2 : 1.2}, ticks);
  }
  const frame = el('rect', {x: x0, y: y0, width: x1 - x0, height: y1 - y0, fill: 'none', stroke: '#000', 'stroke-width': 3}, g);
  
  

  if (panelColumn[i] === 0){
    latTicks.forEach(function(lat, k){
      const t = el('text', {x: 75, y: yScale(i, lat) + 11.5, 'text-anchor': 'end', 'font-size': 35}, g);
      
      
      t.textContent = latTickLabels[k];
    });
  }
  if (i % 4 === 3){
    lonTicks.forEach(function(lon, k){
      const t = el('text', {x: xScale(i, lon), y: 910, 'text-anchor': 'middle', 'font-size': 34.7}, g);
      
      
      t.textContent = lonTickLabels[k];
    });
  }
});

/* ---------- colorbar ---------- */
const barRoot = document.getElementById('colorbar');
const barLeft = 230, barBox = 54.8, barTop = 972, barHeight = 23;
colorLevels.forEach(function(v, k){
  const box = el('rect', {x: barLeft + k * barBox, y: barTop, width: barBox, height: barHeight, fill: barColors[k], stroke: '#222', 'stroke-width': 1.2}, barRoot);
  
  
});
colorbarLabels.forEach(function(label, k){
  const t = el('text', {x: barLeft + (k + 1) * barBox, y: 1023, 'text-anchor': 'middle', 'font-size': 30}, barRoot);
  
  
  t.textContent = label;
});
</script>
</body>
</html>
